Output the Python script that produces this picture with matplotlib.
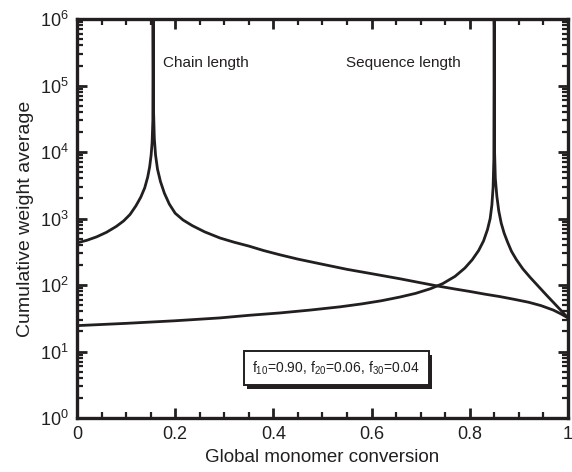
import matplotlib
matplotlib.use("Agg")
import matplotlib.pyplot as plt
from matplotlib.ticker import FixedLocator, LogLocator, NullFormatter, FixedFormatter
from matplotlib import patheffects

plt.rcParams['font.family'] = ['Liberation Sans', 'DejaVu Sans']
plt.rcParams['mathtext.fontset'] = 'custom'
plt.rcParams['mathtext.rm'] = 'Liberation Sans'
plt.rcParams['mathtext.it'] = 'Liberation Sans:italic'

# Cumulative weight-average chain length vs. global conversion
chain_x = [0.000, 0.020, 0.040, 0.060, 0.080, 0.095, 0.108, 0.120, 0.130, 0.138,
           0.144, 0.148, 0.151, 0.153, 0.1545, 0.155, 0.156, 0.1575, 0.160, 0.164,
           0.170, 0.178, 0.188, 0.200, 0.216, 0.235, 0.260, 0.291, 0.320, 0.350,
           0.380, 0.413, 0.450, 0.500, 0.550, 0.600, 0.658, 0.700, 0.733, 0.770,
           0.800, 0.830, 0.861, 0.890, 0.920, 0.945, 0.970, 0.985, 1.000]
chain_y = [430, 470, 530, 620, 760, 920, 1150, 1550, 2100, 2900,
           4200, 6000, 9000, 14000, 30000, 1e6, 40000, 16000, 9000, 5500,
           3600, 2400, 1650, 1200, 950, 780, 630, 510, 440, 385,
           330, 285, 245, 205, 172, 148, 124, 108, 97, 87,
           80, 73, 67, 61, 55, 49, 42, 37, 32]

# Cumulative weight-average sequence length vs. global conversion
seq_x = [0.000, 0.100, 0.200, 0.291, 0.350, 0.413, 0.475, 0.536, 0.580, 0.620,
         0.658, 0.690, 0.720, 0.745, 0.770, 0.790, 0.805, 0.818, 0.828, 0.836,
         0.8415, 0.845, 0.8475, 0.849, 0.8497, 0.8505, 0.852, 0.855, 0.859, 0.864,
         0.870, 0.877, 0.885, 0.895, 0.908, 0.923, 0.940, 0.955, 0.970, 0.985,
         1.000]
seq_y = [24.5, 26.5, 29, 32, 35, 38, 42, 47, 52, 58,
         66, 75, 88, 105, 135, 180, 240, 330, 460, 680,
         1000, 1600, 3000, 8000, 1e6, 10000, 4000, 2200, 1300, 850,
         600, 440, 320, 240, 175, 130, 95, 72, 55, 42,
         32]

x_ticks = [0, 0.2, 0.4, 0.6, 0.8, 1.0]
x_tick_labels = ['0', '0.2', '0.4', '0.6', '0.8', '1']
x_minor = [0.05 * i for i in range(21)]

ink = '#231f20'

fig = plt.figure(figsize=(5.72, 4.72), dpi=100)
ax = fig.add_axes([0.1346, 0.1144, 0.8584, 0.8453])

ax.plot(chain_x, chain_y, color=ink, lw=2.0, solid_joinstyle='round')
ax.plot(seq_x, seq_y, color=ink, lw=2.0, solid_joinstyle='round')

ax.set_yscale('log')
ax.set_xlim(0, 1)
ax.set_ylim(1, 1e6)

ax.xaxis.set_major_locator(FixedLocator(x_ticks))
ax.xaxis.set_major_formatter(FixedFormatter(x_tick_labels))
ax.xaxis.set_minor_locator(FixedLocator(x_minor))
ax.yaxis.set_major_locator(LogLocator(base=10, numticks=10))
ax.yaxis.set_minor_locator(LogLocator(base=10, subs=range(2, 10), numticks=20))
ax.yaxis.set_minor_formatter(NullFormatter())

for s in ax.spines.values():
    s.set_linewidth(2.4)
    s.set_color(ink)

ax.tick_params(which='both', direction='in', top=True, right=True,
               color=ink, labelsize=13, labelcolor=ink)
ax.tick_params(which='major', length=7, width=2.0, pad=6)
ax.tick_params(which='minor', length=4, width=1.6)

ax.set_xlabel('Global monomer conversion', fontsize=13.5, color=ink, labelpad=4)
ax.set_ylabel('Cumulative weight average', fontsize=14, color=ink, labelpad=4)

ax.text(0.175, 2.2e5, 'Chain length', fontsize=11, color=ink, va='center')
ax.text(0.547, 2.2e5, 'Sequence length', fontsize=11, color=ink, va='center')

# Composition note in a framed box with a drop shadow
label = r'f$_{10}$=0.90, f$_{20}$=0.06, f$_{30}$=0.04'
note = ax.text(0.528, 5.6, label, fontsize=10, color=ink, ha='center', va='center',
               bbox=dict(boxstyle='square,pad=0.6', fc='white', ec=ink, lw=1.4))
note.get_bbox_patch().set_path_effects([
    patheffects.SimplePatchShadow(offset=(2.5, -2.5), shadow_rgbFace=ink, alpha=1.0),
    patheffects.Normal(),
])

fig.savefig('out.png', dpi=100)
